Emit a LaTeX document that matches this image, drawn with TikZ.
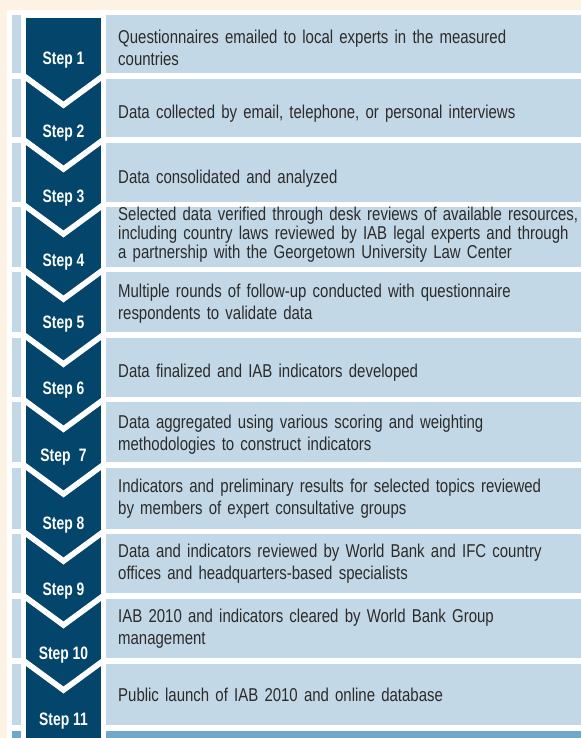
\documentclass[tikz,border=0pt]{standalone}
\usepackage{fontspec}
\setmainfont{Liberation Sans}[FakeStretch=0.805]
\newfontfamily\labelfont{Liberation Sans}[FakeStretch=0.77]
\definecolor{cream}{HTML}{FDF3E4}
\definecolor{rowblue}{HTML}{C3D8E6}
\definecolor{navy}{HTML}{03456B}
\definecolor{midblue}{HTML}{6FA8C8}
\definecolor{txtgray}{HTML}{2B2B2B}
\tikzset{
  rowtxt/.style={anchor=base west, inner sep=0pt, text width=520pt, align=left,
    text=txtgray, font=\fontsize{18.6}{22}\selectfont},
  steplbl/.style={anchor=base, inner sep=0pt, text=white,
    font=\labelfont\bfseries\fontsize{18}{20}\selectfont}
}
\begin{document}
\begin{tikzpicture}[x=1pt,y=-1pt]
\useasboundingbox (0,0) rectangle (581,738);
\fill[cream] (0,0) rectangle (581,738);
\fill[white] (7,10) rectangle (581,738);
% rows
\foreach \t/\b in {15/73,79/137,143/202,207/267,272/332,338/397,402/462,468/529,534/593,599/658,664/725}{
  \fill[rowblue] (12,\t) rectangle (21,\b);
  \fill[rowblue] (106,\t) rectangle (581,\b);
}
\fill[midblue] (12,731) rectangle (21,738);
\fill[midblue] (106,731) rectangle (581,738);
% chevron column
\fill[navy] (26,18) rectangle (101,738);
\foreach \b in {73,137,202,267,332,397,462,529,593,658}{
  \fill[white] (26,\b+1) -- (63.5,\b+28.5) -- (101,\b+1) -- (101,\b+8)
     -- (63.5,\b+35.5) -- (26,\b+8) -- cycle;
}
% step labels
\node[steplbl] (s1) at (63.5,65) {Step 1};
\node[steplbl] (s2) at (63.5,137.5) {Step 2};
\node[steplbl] (s3) at (63.5,202.5) {Step 3};
\node[steplbl] (s4) at (63.5,266) {Step 4};
\node[steplbl] (s5) at (63.5,328.3) {Step 5};
\node[steplbl] (s6) at (63.5,394) {Step 6};
\node[steplbl] (s7) at (63.5,461) {Step\hspace{0.25em} 7};
\node[steplbl] (s8) at (63.5,529.3) {Step 8};
\node[steplbl] (s9) at (63.5,595) {Step 9};
\node[steplbl] (s10) at (63.5,659.3) {Step 10};
\node[steplbl] (s11) at (63.5,725) {Step 11};
% row texts
\node[rowtxt] (t1) at (118,43.3) {Questionnaires emailed to local experts in the measured\\countries};
\node[rowtxt] (t2) at (118,119) {Data collected by email, telephone, or personal interviews};
\node[rowtxt] (t3) at (118,183.5) {Data consolidated and analyzed};
\node[rowtxt, font=\fontsize{18.6}{18.8}\selectfont] (t4) at (118,220.7) {Selected data verified through desk reviews of available resources,\\including country laws reviewed by IAB legal experts and through\\a partnership with the Georgetown University Law Center};
\node[rowtxt] (t5) at (118,297) {Multiple rounds of follow-up conducted with questionnaire\\respondents to validate data};
\node[rowtxt] (t6) at (118,377.5) {Data finalized and IAB indicators developed};
\node[rowtxt] (t7) at (118,428.5) {Data aggregated using various scoring and weighting\\methodologies to construct indicators};
\node[rowtxt] (t8) at (118,492.5) {Indicators and preliminary results for selected topics reviewed\\by members of expert consultative groups};
\node[rowtxt] (t9) at (118,557.5) {Data and indicators reviewed by World Bank and IFC country\\offices and headquarters-based specialists};
\node[rowtxt] (t10) at (118,622.5) {IAB 2010 and indicators cleared by World Bank Group\\management};
\node[rowtxt] (t11) at (118,701.5) {Public launch of IAB 2010 and online database};
\end{tikzpicture}
\end{document}
